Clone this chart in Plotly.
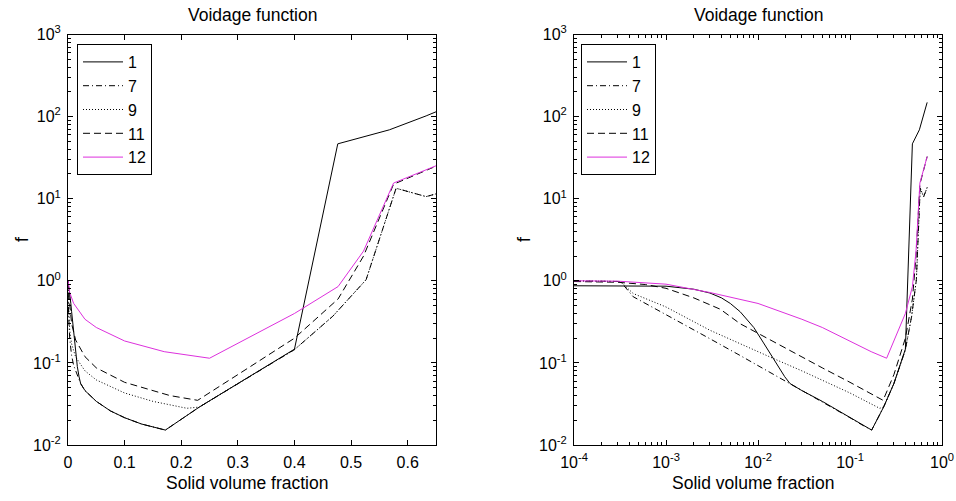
import plotly.graph_objects as go

# Voidage function f versus solid volume fraction for five drag models
names = ["1", "7", "9", "11", "12"]

x_1 = [1e-4, 3e-4, 1e-3, 2e-3, 3e-3, 4e-3, 5e-3, 6.4e-3, 9e-3, 0.0115, 0.0135,
       0.0165, 0.0195, 0.0223, 0.03, 0.05, 0.075, 0.1, 0.13, 0.172, 0.232,
       0.3, 0.4, 0.4765, 0.5676, 0.6326, 0.69]
f_1 = [0.87, 0.87, 0.86, 0.79, 0.71, 0.62, 0.53, 0.42, 0.27, 0.175, 0.13,
       0.09, 0.068, 0.056, 0.046, 0.034, 0.026, 0.0215, 0.018, 0.0152, 0.029,
       0.056, 0.147, 46.6, 69.0, 102.0, 149.0]

x_7 = [1e-4, 3.2e-4, 4.4e-4, 6.4e-4, 1e-3, 3e-3, 6.4e-3, 0.01, 0.0223, 0.03,
       0.05, 0.075, 0.1, 0.13, 0.172, 0.232, 0.3, 0.4, 0.4677, 0.5265, 0.5795,
       0.6326, 0.69]
f_7 = [1.0, 0.98, 0.64, 0.51, 0.39, 0.197, 0.123, 0.093, 0.056, 0.046,
       0.034, 0.026, 0.0215, 0.018, 0.0152, 0.029, 0.056, 0.145, 0.37, 1.03,
       13.4, 10.6, 13.7]

x_9 = [1e-4, 3.2e-4, 4.4e-4, 1e-3, 3e-3, 6.4e-3, 0.0135, 0.03, 0.05, 0.1,
       0.15, 0.21, 0.232, 0.3, 0.4, 0.4677, 0.5265, 0.5795, 0.6326, 0.69]
f_9 = [1.0, 0.98, 0.70, 0.48, 0.25, 0.17, 0.118, 0.08, 0.062, 0.043,
       0.034, 0.028, 0.029, 0.056, 0.145, 0.37, 1.03, 13.4, 10.6, 13.7]

x_11 = [1e-4, 3e-4, 6e-4, 1e-3, 2e-3, 3.9e-3, 6.4e-3, 0.0135, 0.03, 0.05,
        0.1, 0.18, 0.229, 0.3, 0.4, 0.477, 0.522, 0.575, 0.69]
f_11 = [0.98, 0.96, 0.90, 0.81, 0.62, 0.45, 0.30, 0.19, 0.119, 0.087,
        0.058, 0.040, 0.035, 0.072, 0.20, 0.60, 2.0, 15.0, 32.6]

x_12 = [1e-4, 3e-4, 1e-3, 3e-3, 0.01, 0.03, 0.05, 0.1, 0.17, 0.25, 0.4,
        0.477, 0.522, 0.575, 0.69]
f_12 = [1.0, 0.99, 0.91, 0.72, 0.53, 0.34, 0.27, 0.185, 0.137, 0.114, 0.40,
        0.85, 2.3, 15.5, 32.6]

xs = [x_1, x_7, x_9, x_11, x_12]
fs = [f_1, f_7, f_9, f_11, f_12]
colors = ["black", "black", "black", "black", "#dd30dd"]
dashes = ["solid", "6px,3px,1px,3px", "1px,2px", "7px,4px", "solid"]

lin_ticks = [0, 0.1, 0.2, 0.3, 0.4, 0.5, 0.6]
lin_labels = ["0", "0.1", "0.2", "0.3", "0.4", "0.5", "0.6"]
f_ticks = [1e-2, 1e-1, 1e0, 1e1, 1e2, 1e3]
f_labels = ["10<sup>-2</sup>", "10<sup>-1</sup>", "10<sup>0</sup>",
            "10<sup>1</sup>", "10<sup>2</sup>", "10<sup>3</sup>"]
phi_ticks = [1e-4, 1e-3, 1e-2, 1e-1, 1e0]
phi_labels = ["10<sup>-4</sup>", "10<sup>-3</sup>", "10<sup>-2</sup>",
              "10<sup>-1</sup>", "10<sup>0</sup>"]

W, H = 956, 501
FONT = "Liberation Sans, Arial, sans-serif"

fig = go.Figure()
for name, x, f, c, d in zip(names, xs, fs, colors, dashes):
    line = dict(color=c, width=1, dash=d)
    fig.add_trace(go.Scatter(x=x, y=f, mode="lines", name=name, line=line,
                             xaxis="x", yaxis="y", legend="legend"))
    fig.add_trace(go.Scatter(x=x, y=f, mode="lines", name=name, line=line,
                             xaxis="x2", yaxis="y2", legend="legend2"))


def log_minor(lo, hi):
    return [m * 10.0 ** e for e in range(lo, hi) for m in range(2, 10)]


y_dom = [(H - 445) / H, (H - 34.5) / H]
axis_common = dict(showline=True, linecolor="black", linewidth=1,
                   mirror="allticks", ticks="inside", tickcolor="black",
                   ticklen=5, showgrid=False, zeroline=False,
                   automargin=False, ticklabelstandoff=3,
                   tickfont=dict(family=FONT, size=16, color="black"))
minor_y = dict(ticks="inside", ticklen=3, tickcolor="black", showgrid=False,
               tickmode="array", tickvals=log_minor(-2, 3))
minor_x = dict(ticks="inside", ticklen=3, tickcolor="black", showgrid=False,
               tickmode="array", tickvals=log_minor(-4, 0))

legend_common = dict(xanchor="left", yanchor="top", bgcolor="white",
                     bordercolor="black", borderwidth=1,
                     font=dict(family=FONT, size=16, color="black"),
                     itemwidth=40, tracegroupgap=0)

fig.update_layout(
    width=W, height=H,
    margin=dict(l=0, r=0, t=0, b=0),
    paper_bgcolor="white", plot_bgcolor="white",
    font=dict(family=FONT, size=17, color="black"),
    xaxis=dict(domain=[68 / W, 436 / W], range=[0, 0.65], anchor="y",
               tickmode="array", tickvals=lin_ticks, ticktext=lin_labels,
               **axis_common),
    yaxis=dict(domain=y_dom, type="log", range=[-2, 3], anchor="x",
               tickmode="array", tickvals=f_ticks, ticktext=f_labels,
               minor=minor_y, **axis_common),
    xaxis2=dict(domain=[574 / W, 942 / W], type="log", range=[-4, 0],
                anchor="y2", tickmode="array", tickvals=phi_ticks,
                ticktext=phi_labels, minor=minor_x, **axis_common),
    yaxis2=dict(domain=y_dom, type="log", range=[-2, 3], anchor="x2",
                tickmode="array", tickvals=f_ticks, ticktext=f_labels,
                minor=minor_y, **axis_common),
    legend=dict(x=77 / W, y=1 - 44 / H, **legend_common),
    legend2=dict(x=581 / W, y=1 - 44 / H, **legend_common),
    showlegend=True,
)

# subplot titles and axis labels
for cx in (252, 758):
    fig.add_annotation(text="Voidage function", x=cx / W, y=1 - 15 / H,
                       xref="paper", yref="paper", showarrow=False,
                       xanchor="center", yanchor="middle",
                       font=dict(family=FONT, size=17.5, color="black"))
    fig.add_annotation(text="Solid volume fraction", x=(cx - 5) / W,
                       y=1 - 483 / H, xref="paper", yref="paper",
                       showarrow=False, xanchor="center", yanchor="middle",
                       font=dict(family=FONT, size=17.5, color="black"))
for fx in (22, 524):
    fig.add_annotation(text="f", x=fx / W, y=1 - 240 / H, xref="paper",
                       yref="paper", showarrow=False, textangle=-90,
                       xanchor="center", yanchor="middle",
                       font=dict(family=FONT, size=17.5, color="black"))

fig.write_html("out.html")
